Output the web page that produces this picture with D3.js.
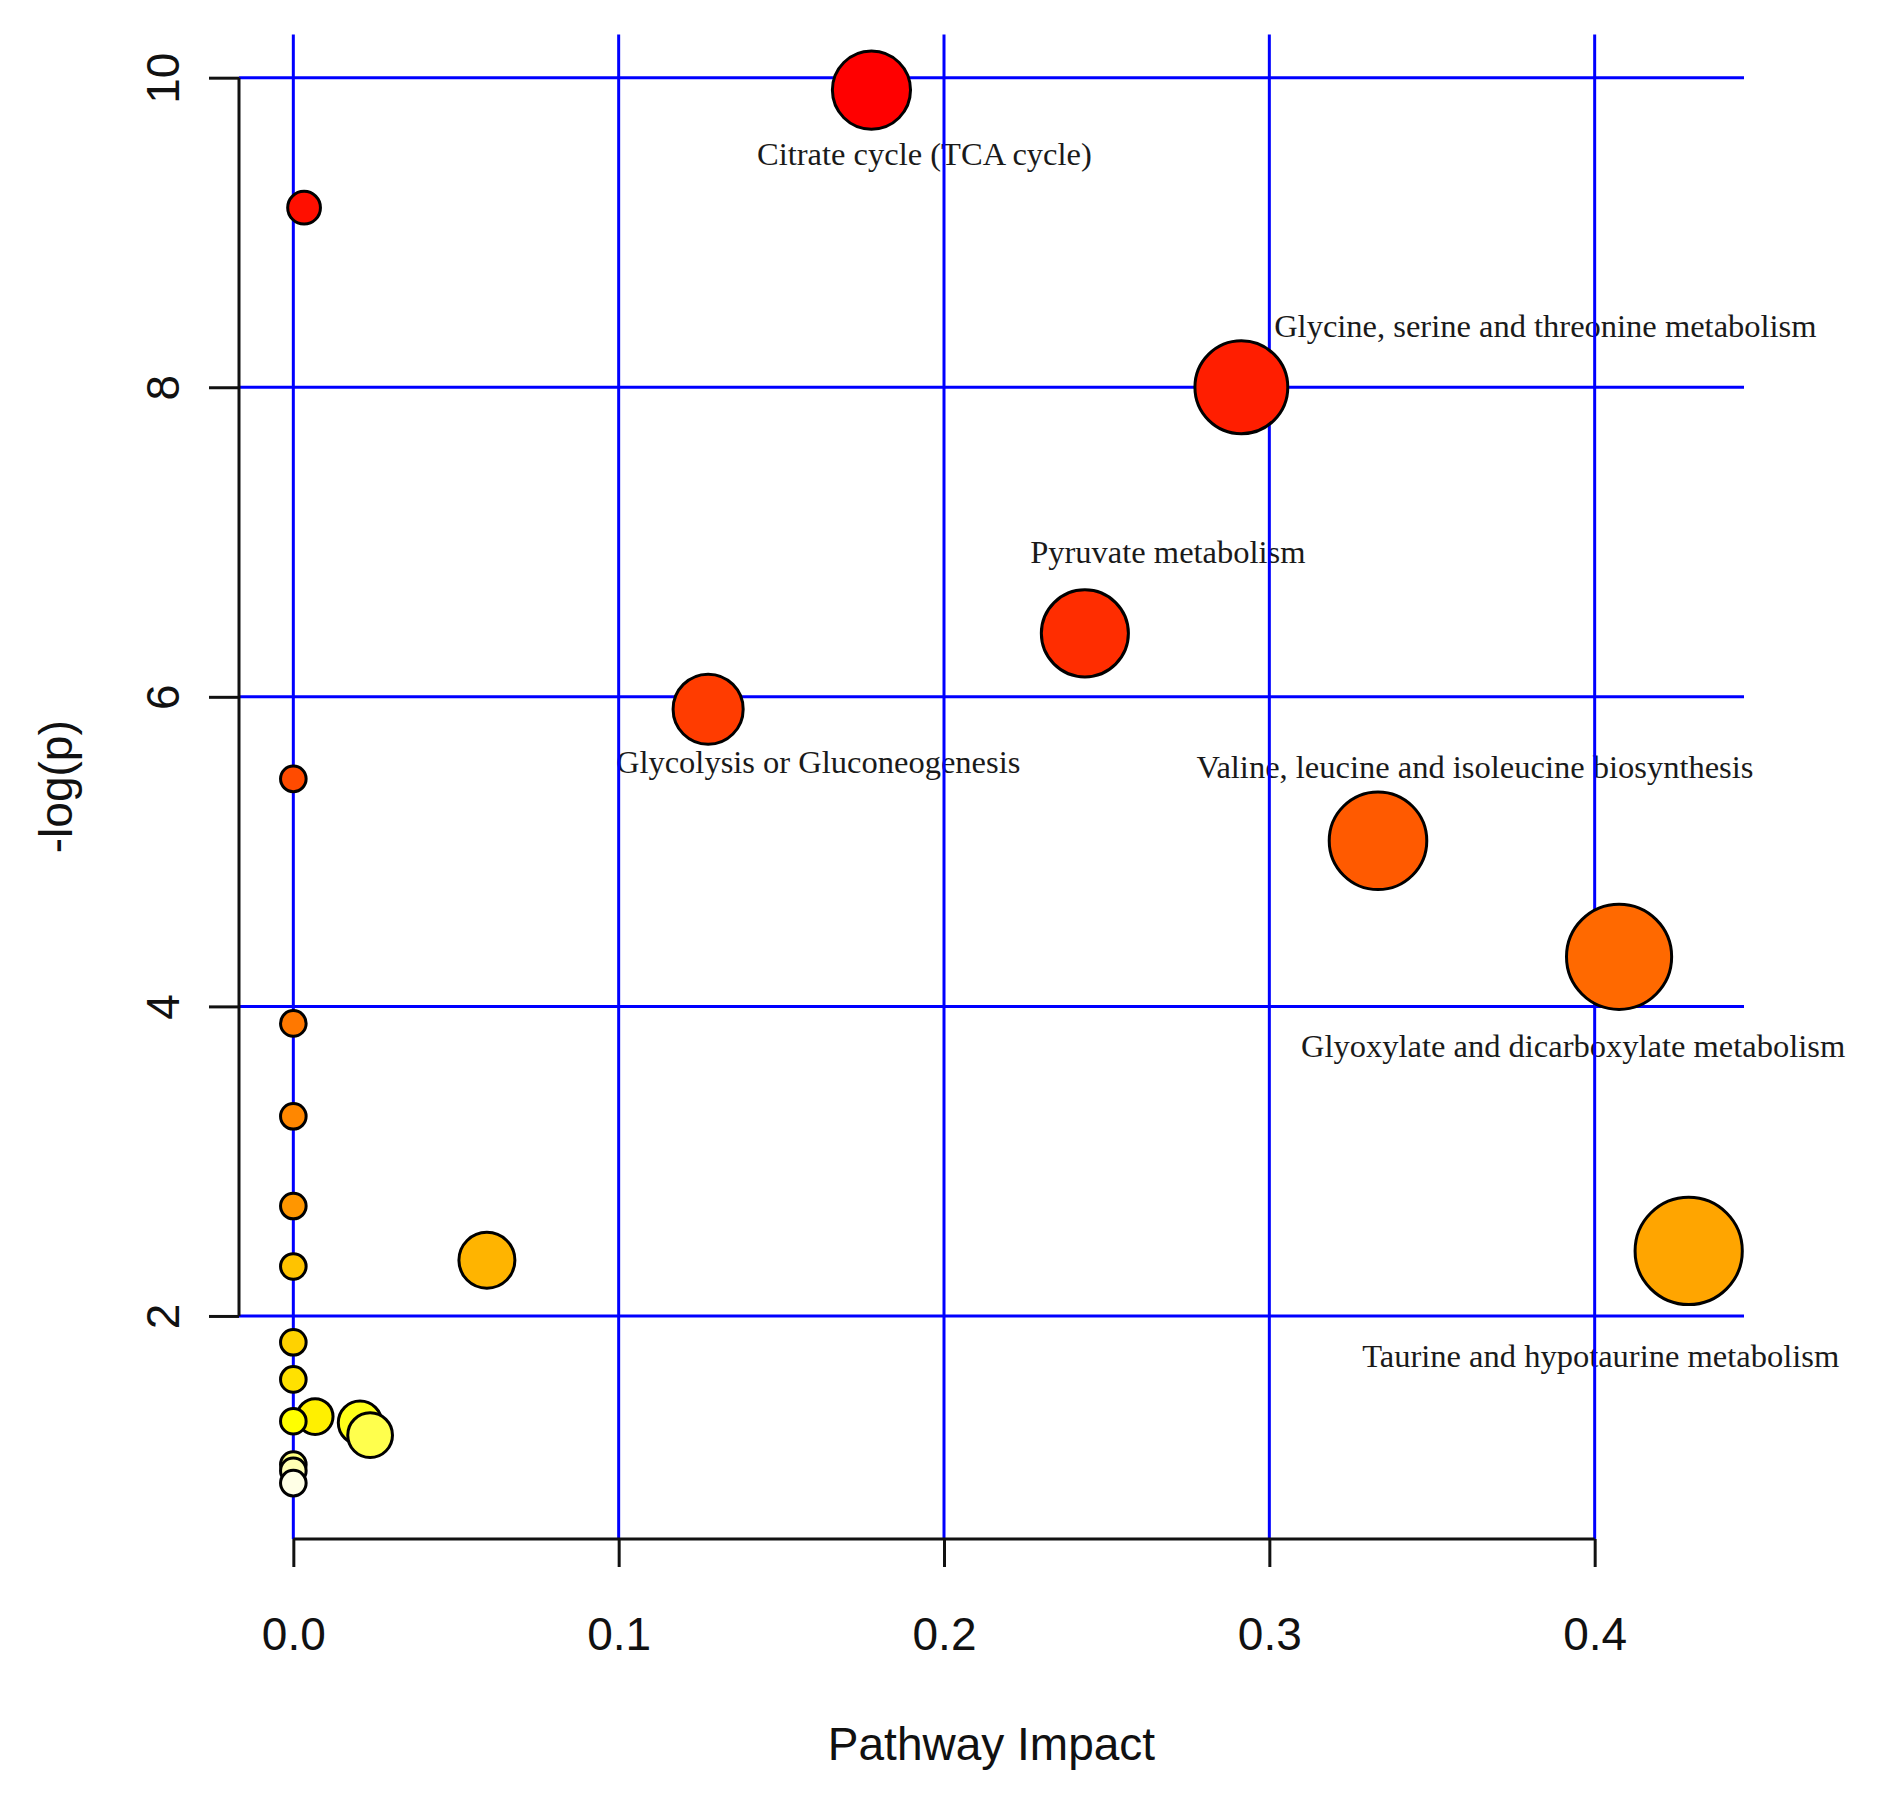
<!DOCTYPE html>
<html>
<head>
<meta charset="utf-8">
<script src="https://cdn.jsdelivr.net/npm/d3@7/dist/d3.min.js"></script>
<style>
  html, body { margin: 0; padding: 0; background: #ffffff; }
  svg { display: block; }
</style>
</head>
<body>
<svg id="chart" width="1899" height="1803"></svg>
<script>
// ---------------- data ----------------
const pathwayNames = [
  "Citrate cycle (TCA cycle)", "", "Glycine, serine and threonine metabolism",
  "Pyruvate metabolism", "Glycolysis or Gluconeogenesis", "",
  "Valine, leucine and isoleucine biosynthesis", "Glyoxylate and dicarboxylate metabolism",
  "", "", "", "Taurine and hypotaurine metabolism", "", "", "", "", "", "", "", "", "", "", ""
];
const pathwayImpact = [
  0.1777, 0.0033, 0.2914, 0.2433, 0.1275, 0.0, 0.3334, 0.4075,
  0.0, 0.0, 0.0, 0.4289, 0.0595, 0.0, 0.0, 0.0, 0.0067, 0.0, 0.0205, 0.0236, 0.0, 0.0, 0.0
];
const negLogP = [
  9.92, 9.16, 8.00, 6.41, 5.92, 5.47, 5.07, 4.32,
  3.89, 3.29, 2.71, 2.42, 2.36, 2.32, 1.83, 1.59, 1.35, 1.32, 1.31, 1.23, 1.04, 1.00, 0.92
];
const xTicks = [0.0, 0.1, 0.2, 0.3, 0.4];
const yTicks = [2, 4, 6, 8, 10];
const xTickLabels = ["0.0", "0.1", "0.2", "0.3", "0.4"];
const yTickLabels = ["2", "4", "6", "8", "10"];
const xTitle = "Pathway Impact";
const yTitle = "-log(p)";

// ---------------- layout / style (not data) ----------------
const plot = { left: 239, right: 1744, top: 34.5, bottom: 1539 };
const xLimits = [-0.0167, 0.4459];
const yLimits = [0.559, 10.279];
// label offsets (pixels) from bubble centre: text centre dx, baseline dy
const labelOffsets = {
  "Citrate cycle (TCA cycle)": [53, 75],
  "Glycine, serine and threonine metabolism": [304, -50],
  "Pyruvate metabolism": [83, -70],
  "Glycolysis or Gluconeogenesis": [110, 64],
  "Valine, leucine and isoleucine biosynthesis": [97, -63],
  "Glyoxylate and dicarboxylate metabolism": [-46, 100],
  "Taurine and hypotaurine metabolism": [-88, 116]
};
const axisFont = "'Liberation Sans', Arial, sans-serif";
const labelFont = "'Liberation Serif', 'Times New Roman', serif";

// R's heat.colors(n)
function heatColors(n) {
  const j = Math.floor(n / 4), i = n - j, out = [];
  for (let k = 0; k < i; k++) {
    const h = i > 1 ? (k / (i - 1)) / 6 : 0;
    out.push(d3.rgb(255, Math.round(255 * 6 * h), 0).formatHex());
  }
  for (let k = 0; k < j; k++) {
    const s = j > 1 ? (1 - 1 / (2 * j)) - k * ((1 - 1 / j) / (j - 1)) : 0.5;
    out.push(d3.rgb(255, 255, Math.round(255 * (1 - s))).formatHex());
  }
  return out;
}

const data = pathwayImpact.map((v, i) => ({ name: pathwayNames[i], impact: v, logp: negLogP[i] }));
const order = d3.range(data.length).sort((a, b) => data[b].logp - data[a].logp);
const pal = heatColors(data.length);
order.forEach((idx, rank) => { data[idx].color = pal[rank]; });

const x = d3.scaleLinear().domain(xLimits).range([plot.left, plot.right]);
const y = d3.scaleLinear().domain(yLimits).range([plot.bottom, plot.top]);
const r = d3.scaleSqrt().domain([0, d3.max(pathwayImpact)]).range([12.8, 53.6]);

const svg = d3.select("#chart");
svg.append("rect").attr("width", 1899).attr("height", 1803).attr("fill", "#fff");

// labels (under grid, as in reference)
const gLab = svg.append("g");
data.filter(d => d.name && labelOffsets[d.name]).forEach(d => {
  const off = labelOffsets[d.name];
  gLab.append("text")
    .attr("x", x(d.impact) + off[0])
    .attr("y", y(d.logp) + off[1])
    .attr("text-anchor", "middle")
    .attr("font-family", labelFont)
    .attr("font-size", 32.5)
    .attr("fill", "#1a1a1a")
    .text(d.name);
});

// grid
const gGrid = svg.append("g").attr("stroke", "#0000ff").attr("stroke-width", 3);
xTicks.forEach(t => gGrid.append("line")
  .attr("x1", x(t)).attr("x2", x(t)).attr("y1", plot.top).attr("y2", plot.bottom));
yTicks.forEach(t => gGrid.append("line")
  .attr("x1", plot.left).attr("x2", plot.right).attr("y1", y(t)).attr("y2", y(t)));

// axes
const xAxis = d3.axisBottom(x).tickValues(xTicks).tickSize(28).tickSizeOuter(0)
  .tickFormat((d, i) => xTickLabels[i]);
const gx = svg.append("g").attr("transform", `translate(0,${plot.bottom})`).call(xAxis);
gx.select(".domain").remove();
gx.selectAll(".tick line").attr("stroke", "#111").attr("stroke-width", 3);
gx.selectAll(".tick text").attr("font-family", axisFont).attr("font-size", 46)
  .attr("fill", "#111").attr("dy", null).attr("y", 111);
gx.append("line").attr("x1", x(xTicks[0])).attr("x2", x(xTicks[xTicks.length - 1]))
  .attr("y1", 0).attr("y2", 0).attr("stroke", "#111").attr("stroke-width", 3);

const yAxis = d3.axisLeft(y).tickValues(yTicks).tickSize(30).tickSizeOuter(0)
  .tickFormat((d, i) => yTickLabels[i]);
const gy = svg.append("g").attr("transform", `translate(${plot.left},0)`).call(yAxis);
gy.select(".domain").remove();
gy.selectAll(".tick line").attr("stroke", "#111").attr("stroke-width", 3);
gy.selectAll(".tick text").attr("font-family", axisFont).attr("font-size", 46)
  .attr("fill", "#111").attr("x", null).attr("dy", null)
  .attr("text-anchor", "middle")
  .attr("transform", "translate(-60,0) rotate(-90)");
gy.append("line").attr("x1", 0).attr("x2", 0)
  .attr("y1", y(yTicks[0])).attr("y2", y(yTicks[yTicks.length - 1]))
  .attr("stroke", "#111").attr("stroke-width", 3);

// titles
svg.append("text").attr("x", (plot.left + plot.right) / 2).attr("y", 1760)
  .attr("text-anchor", "middle").attr("font-family", axisFont).attr("font-size", 46)
  .attr("fill", "#111").text(xTitle);
svg.append("text")
  .attr("transform", `translate(72,${(plot.top + plot.bottom) / 2}) rotate(-90)`)
  .attr("text-anchor", "middle").attr("font-family", axisFont).attr("font-size", 46)
  .attr("fill", "#111").text(yTitle);

// bubbles, drawn in decreasing -log(p) so lower ones sit on top
const gPts = svg.append("g");
order.forEach(idx => {
  const d = data[idx];
  gPts.append("circle")
    .attr("cx", x(d.impact)).attr("cy", y(d.logp)).attr("r", r(d.impact))
    .attr("fill", d.color).attr("stroke", "#000").attr("stroke-width", 3);
});
</script>
</body>
</html>
